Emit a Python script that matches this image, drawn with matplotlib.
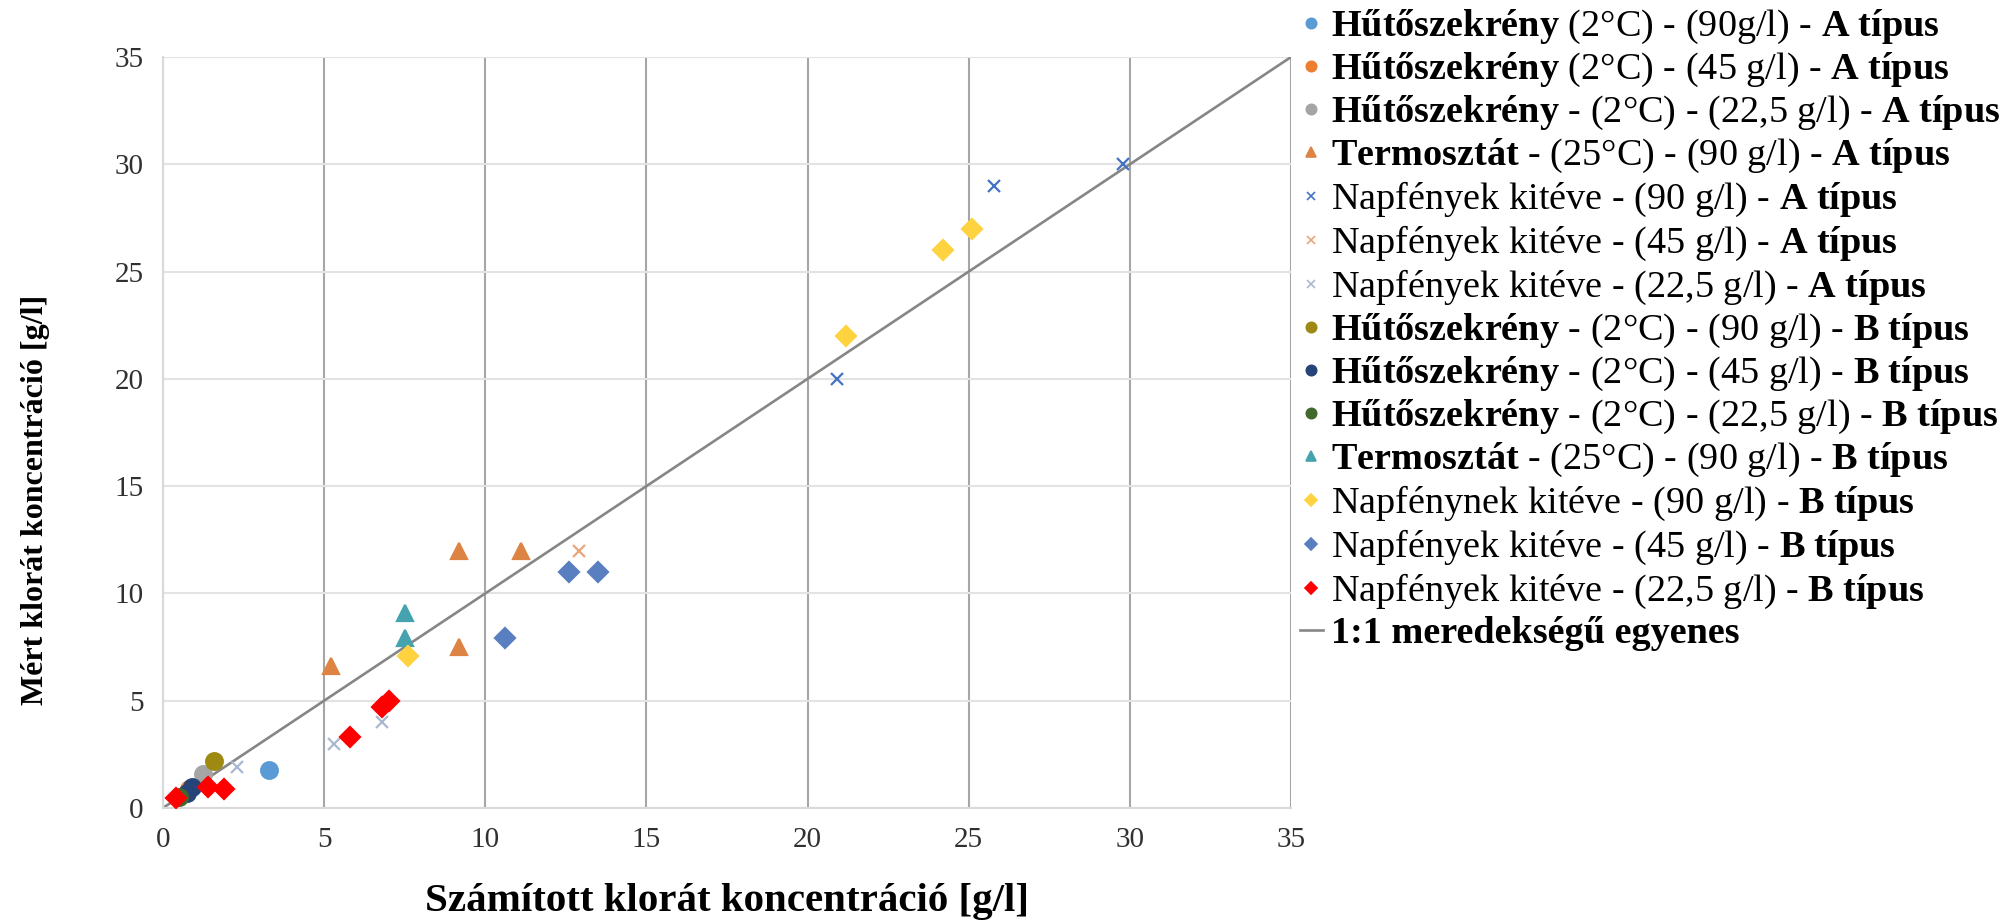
import matplotlib
matplotlib.use('Agg')
import matplotlib.pyplot as plt
from matplotlib.lines import Line2D

plt.rcParams['font.family'] = ['Liberation Serif', 'DejaVu Serif']
plt.rcParams['mathtext.fontset'] = 'custom'
plt.rcParams['mathtext.rm'] = 'Liberation Serif'
plt.rcParams['mathtext.bf'] = 'Liberation Serif:bold'
plt.rcParams['mathtext.it'] = 'Liberation Serif:italic'

# sorozatok (x = számított, y = mért)
# jelmagyarázat: (félkövér eleje, normál közép, félkövér vége)
label_parts = [
    ('Hűtőszekrény', ' (2°C) - (90g/l) - ', 'A típus'),
    ('Hűtőszekrény', ' (2°C) - (45 g/l) - ', 'A típus'),
    ('Hűtőszekrény', ' - (2°C) - (22,5 g/l) - ', 'A típus'),
    ('Termosztát', ' - (25°C) - (90 g/l) - ', 'A típus'),
    ('', 'Napfények kitéve - (90 g/l) - ', 'A típus'),
    ('', 'Napfények kitéve - (45 g/l) - ', 'A típus'),
    ('', 'Napfények kitéve - (22,5 g/l) - ', 'A típus'),
    ('Hűtőszekrény', ' - (2°C) - (90 g/l) - ', 'B típus'),
    ('Hűtőszekrény', ' - (2°C) - (45 g/l) - ', 'B típus'),
    ('Hűtőszekrény', ' - (2°C) - (22,5 g/l) - ', 'B típus'),
    ('Termosztát', ' - (25°C) - (90 g/l) - ', 'B típus'),
    ('', 'Napfénynek kitéve - (90 g/l) - ', 'B típus'),
    ('', 'Napfények kitéve - (45 g/l) - ', 'B típus'),
    ('', 'Napfények kitéve - (22,5 g/l) - ', 'B típus'),
]
line_label = '1:1 meredekségű egyenes'

x_vals = [
    [3.3],
    [0.8],
    [1.25],
    [5.2, 9.2, 11.1, 9.2],
    [20.9, 25.8, 29.8],
    [12.9],
    [2.3, 5.3, 6.8],
    [1.6],
    [0.9, 0.75],
    [0.5],
    [7.5, 7.5],
    [21.2, 24.2, 25.1, 7.6],
    [10.6, 12.6, 13.5],
    [0.4, 1.4, 1.9, 5.8, 6.8, 7.0],
]
y_vals = [
    [1.75],
    [0.9],
    [1.6],
    [6.6, 12.0, 12.0, 7.5],
    [20.0, 29.0, 30.0],
    [12.0],
    [1.9, 3.0, 4.0],
    [2.2],
    [1.0, 0.7],
    [0.5],
    [9.1, 7.9],
    [22.0, 26.0, 27.0, 7.1],
    [7.9, 11.0, 11.0],
    [0.45, 1.0, 0.9, 3.3, 4.7, 5.0],
]
line_x = [0, 35]
line_y = [0, 35]

colors = ['#5B9BD5', '#ED7D31', '#A5A5A5', '#DD8444', '#4472C4', '#E8A67A',
          '#AAB9D2', '#9E8A12', '#264478', '#43682B', '#45A3B0', '#FFD23F',
          '#5A7FC0', '#FF0000']
markers = ['o', 'o', 'o', '^', 'x', 'x', 'x', 'o', 'o', 'o', '^', 'D', 'D', 'D']
sizes = [12, 12, 12, 12, 9, 9, 9, 12, 12, 12, 12, 10, 10, 10]


def mt(s, bold):
    if bold:
        return r'\mathbf{' + s.replace(' ', r'\ ') + '}'
    return r'\text{' + s + '}'


def make_label(parts):
    b1, mid, b2 = parts
    out = ''
    if b1:
        out += mt(b1, True)
    out += mt(mid, False)
    out += mt(b2, True)
    return '$' + out + '$'


labels = [make_label(p) for p in label_parts]

fig = plt.figure(figsize=(20.09, 9.23), dpi=100)
ax = fig.add_axes([0.0811, 0.1246, 0.5615, 0.8136])

ax.plot(line_x, line_y, color='#868686', lw=1.9, zorder=2)
for i in range(len(labels)):
    ax.plot(x_vals[i], y_vals[i], linestyle='none', marker=markers[i],
            color=colors[i], markersize=sizes[i], mew=1.6, zorder=3)

ax.set_xlim(0, 35)
ax.set_ylim(0, 35)
ax.set_xticks(range(0, 36, 5))
ax.set_yticks(range(0, 36, 5))
ax.grid(axis='x', color='#A6A6A6', lw=1.5)
ax.grid(axis='y', color='#E3E3E3', lw=1.5)
ax.set_axisbelow(True)
for s in ['top', 'right']:
    ax.spines[s].set_visible(False)
ax.spines['left'].set_color('#D9D9D9')
ax.spines['bottom'].set_color('#D9D9D9')
ax.spines['left'].set_linewidth(1.5)
ax.spines['bottom'].set_linewidth(1.5)
ax.tick_params(length=0, labelsize=21, labelcolor='#303030', pad=14)

ax.set_xlabel('Számított klorát koncentráció [g/l]', fontsize=29.5, fontweight='bold')
ax.xaxis.set_label_coords(0.5, -0.1)
ax.set_ylabel('Mért klorát koncentráció [g/l]', fontsize=23, fontweight='bold')
ax.yaxis.set_label_coords(-0.1, 0.41)

handles = []
for i in range(len(labels)):
    handles.append(Line2D([], [], linestyle='none', marker=markers[i], color=colors[i],
                          markersize=sizes[i] * 0.62, mew=1.2))
handles.append(Line2D([], [], color='#868686', lw=1.9))
leg = fig.legend(handles, labels + [line_label], loc='upper left',
                 bbox_to_anchor=(0.6395, 1.008), frameon=False, fontsize=27.5,
                 handlelength=0.6, handletextpad=0.2, labelspacing=0.125,
                 borderaxespad=0)
leg.get_texts()[-1].set_fontweight('bold')

plt.savefig('out.png', dpi=100)
plt.close()
